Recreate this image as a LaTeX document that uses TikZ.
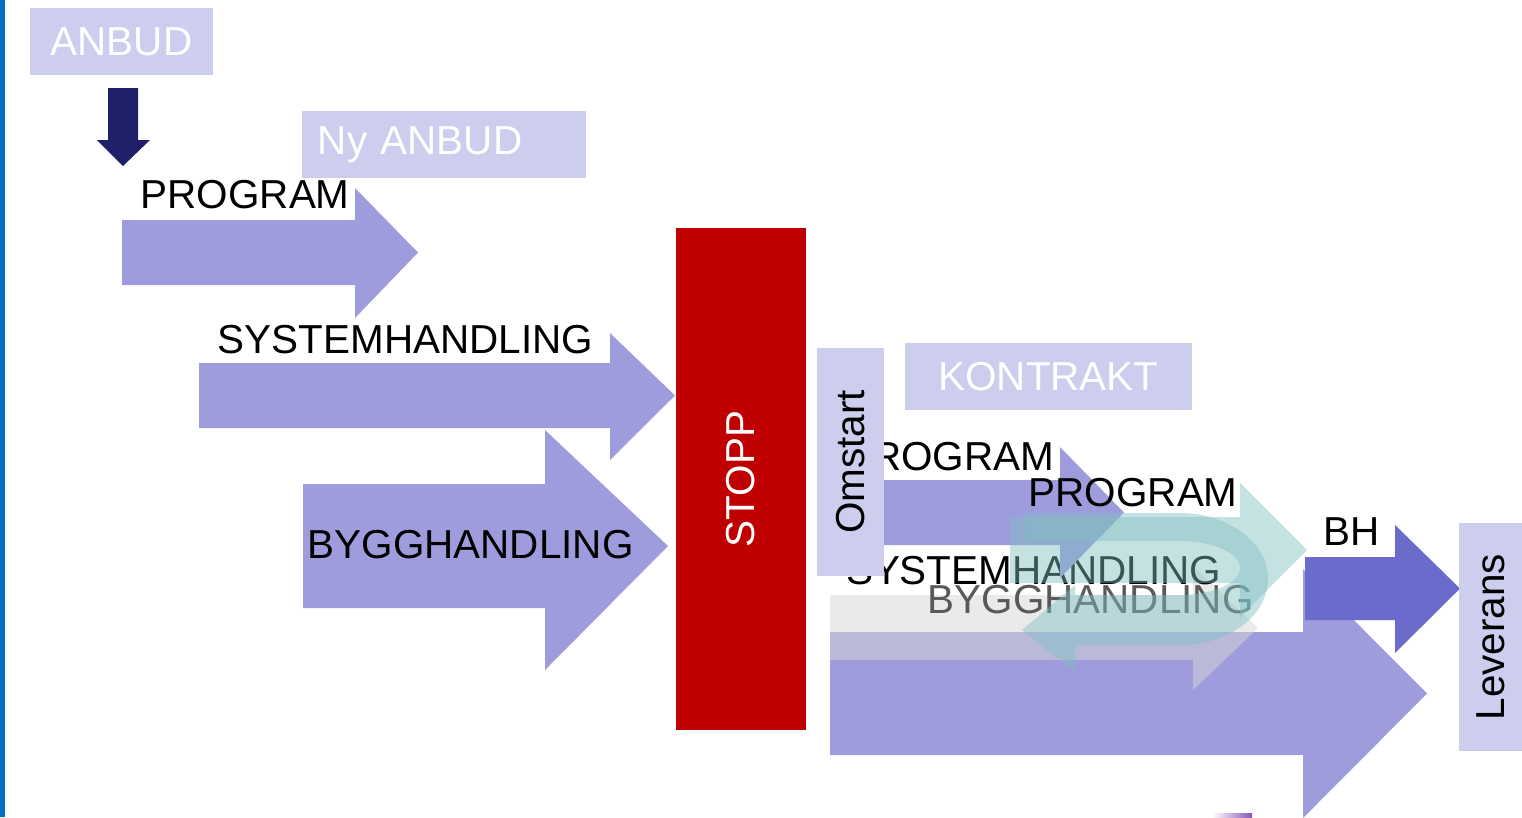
\documentclass[tikz,border=0pt]{standalone}
\usepackage{fontspec}
\setmainfont{Liberation Sans}
\usetikzlibrary{positioning}

\definecolor{lav}{HTML}{9E9CDC}
\definecolor{lavbox}{HTML}{CDCDEE}
\definecolor{navy}{HTML}{20206A}
\definecolor{stopred}{HTML}{C00000}
\definecolor{bhblue}{HTML}{6B6BCC}
\definecolor{teal2}{HTML}{7FBFC2}
\definecolor{edgeblue}{HTML}{0070C0}
\definecolor{sliver}{HTML}{8A55B5}

\begin{document}
\begin{tikzpicture}[
  x=0.01cm, y=-0.01cm,
  font=\fontsize{11.5}{13}\selectfont,
  lightbox/.style={fill=lavbox, text=white, inner sep=0pt},
  sidebox/.style={fill=lavbox, text=black, inner sep=0pt, rotate=90},
  stopbox/.style={fill=stopred, text=white, inner sep=0pt, rotate=90},
  lbl/.style={inner sep=0pt, anchor=base west},
  blockarrow/.style={fill=lav},
  loop/.style={fill=teal2, fill opacity=0.45}
]
\useasboundingbox (0,0) rectangle (1522,817);

% Edge of slide
\fill[edgeblue] (0,0) rectangle (5,817);

% Tender boxes
\node[lightbox, minimum width=1.83cm, minimum height=0.67cm] (anbud) at (121.5,41.5) {ANBUD};
\node[lightbox, inner xsep=0.16cm, text width=2.52cm, align=left, minimum height=0.67cm] (nyanbud) at (444,144.5) {Ny ANBUD};
\fill[navy] (108,88) -- (138,88) -- (138,140) -- (150,140) -- (123,166) -- (97,140) -- (108,140) -- cycle;

% First round
\fill[blockarrow] (122,220) -- (355,220) -- (355,188) -- (418,252.5) -- (355,318) -- (355,285) -- (122,285) -- cycle;
\node[lbl] (prog1) at (140,208) {PROGRAM};
\fill[blockarrow] (199,363) -- (610,363) -- (610,333) -- (675,395.5) -- (610,460) -- (610,428) -- (199,428) -- cycle;
\node[lbl] (sys1) at (217,353) {SYSTEMHANDLING};
\fill[blockarrow] (303,484) -- (545,484) -- (545,430) -- (668,546) -- (545,670) -- (545,608) -- (303,608) -- cycle;
\node[lbl] (bygg1) at (307,558) {BYGGHANDLING};

% Stop
\node[stopbox, minimum width=5.02cm, minimum height=1.30cm] (stopp) at (741,479) {STOPP};

% Second round
\fill[blockarrow] (830,632) -- (1303,632) -- (1303,569) -- (1427,693.5) -- (1303,818) -- (1303,755) -- (830,755) -- cycle;
\fill[fill=black!16, fill opacity=0.5] (830,595) -- (1193,595) -- (1193,566) -- (1258,628) -- (1193,690) -- (1193,660) -- (830,660) -- cycle;
\node[lbl, text=black!65] (bygg2) at (927,613) {BYGGHANDLING};
\node[lbl, anchor=base east] (sys2) at (1222,584) {SYSTEMHANDLING};
\fill[blockarrow] (830,480) -- (1060,480) -- (1060,447) -- (1124,512.5) -- (1060,578) -- (1060,545) -- (830,545) -- cycle;
\node[lbl, anchor=base east] (prog2) at (1055,470) {PROGRAM};
\node[lbl] (prog3) at (1028,506) {PROGRAM};

% Iteration loop
\fill[loop] (1010,517) -- (1240,517) -- (1240,483) -- (1307,550) -- (1240,617) -- (1240,583) -- (1010,583) -- cycle;
\fill[loop] (1025,513) -- (1180,513) arc[start angle=-90, end angle=90, x radius=88, y radius=66]
  -- (1075,645) -- (1075,672) -- (1022,630) -- (1075,585) -- (1075,595) -- (1180,595)
  arc[start angle=90, end angle=-90, x radius=60, y radius=27] -- (1025,541) -- cycle;

% Restart and contract
\node[sidebox, minimum width=2.28cm, minimum height=0.67cm] (omstart) at (850.5,462) {Omstart};
\node[lightbox, minimum width=2.87cm, minimum height=0.67cm] (kontrakt) at (1048.5,376.5) {KONTRAKT};

% Delivery
\fill[bhblue] (1305,557) -- (1395,557) -- (1395,525) -- (1460,588.5) -- (1395,653) -- (1395,620) -- (1305,620) -- cycle;
\node[lbl] (bh) at (1323,545) {BH};
\node[sidebox, minimum width=2.28cm, minimum height=0.63cm] (leverans) at (1490.5,637) {Leverans};

\shade[left color=white, right color=sliver] (1212,813) rectangle (1252,817);

\end{tikzpicture}
\end{document}
